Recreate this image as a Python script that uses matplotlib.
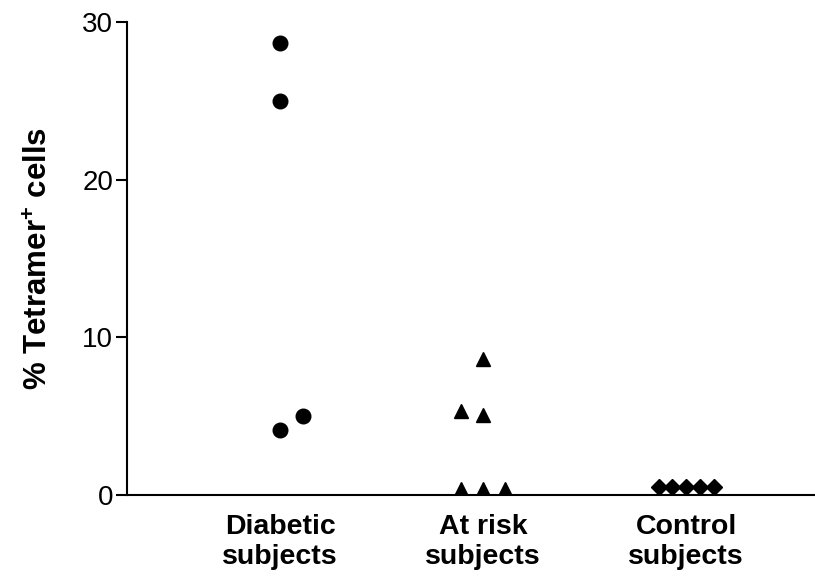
import matplotlib
matplotlib.use("Agg")
import matplotlib.pyplot as plt
import numpy as np

plt.rcParams['font.family'] = ['Liberation Sans', 'DejaVu Sans']
plt.rcParams['mathtext.fontset'] = 'custom'
plt.rcParams['mathtext.rm'] = 'Liberation Sans'
plt.rcParams['mathtext.bf'] = 'Liberation Sans:bold'

# data
groups = ["Diabetic\nsubjects", "At risk\nsubjects", "Control\nsubjects"]
diabetic = [28.7, 25.0, 4.1, 5.0]
at_risk = [5.3, 8.6, 5.1, 0.35, 0.35, 0.35]
control = [0.5, 0.5, 0.5, 0.5, 0.5]

# horizontal spread of the points in each column
diabetic_dx = [0.0, 0.0, 0.0, 0.11]
at_risk_dx = [-0.11, 0.0, 0.0, -0.11, 0.0, 0.11]
control_dx = [-0.135, -0.068, 0.0, 0.068, 0.135]

fig = plt.figure(figsize=(8.15, 5.78), dpi=100)
ax = fig.add_axes([0.156, 0.1436, 0.844, 0.818])

ax.plot(1 + np.array(diabetic_dx), diabetic, 'o', color='black', markersize=10.5, linestyle='none')
ax.plot(2 + np.array(at_risk_dx), at_risk, '^', color='black', markersize=10.5, linestyle='none')
ax.plot(3 + np.array(control_dx), control, 'D', color='black', markersize=8.5, linestyle='none')

ax.set_xlim(0.246, 3.635)
ax.set_ylim(0, 30)
ax.set_yticks([0, 10, 20, 30])
ax.set_xticks([1, 2, 3])
ax.set_xticklabels(groups, fontsize=20.5, fontweight='bold', linespacing=1.2)
ax.tick_params(axis='x', length=0, pad=14)
ax.tick_params(axis='y', length=8, width=1.5, labelsize=20, pad=2)
ax.set_ylabel(r"% Tetramer$^{\mathbf{+}}$ cells", fontsize=22.5, fontweight='bold', labelpad=20)

for side in ['top', 'right']:
    ax.spines[side].set_visible(False)
ax.spines['left'].set_linewidth(1.5)
ax.spines['bottom'].set_linewidth(1.5)

fig.savefig("out.png", dpi=100)
